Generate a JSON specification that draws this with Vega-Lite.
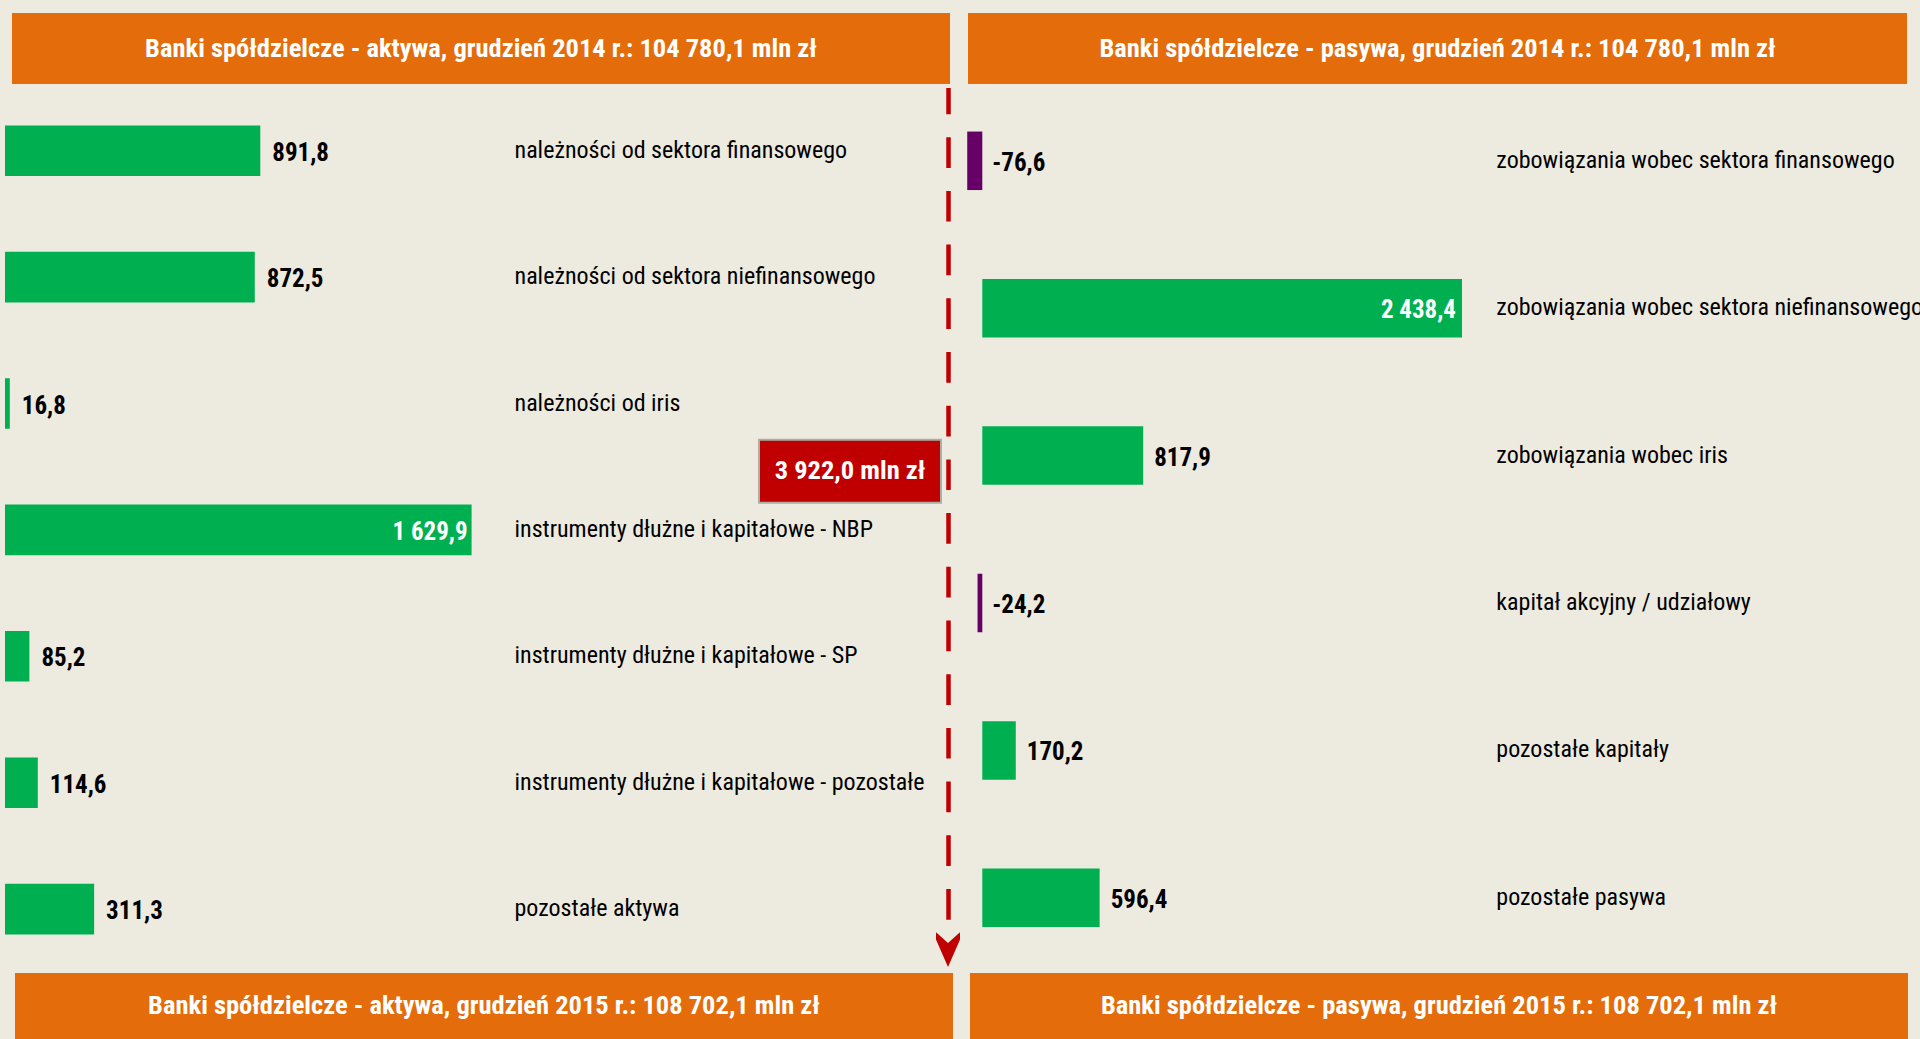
{
  "$schema": "https://vega.github.io/schema/vega-lite/v6.json",
  "background": "#EDEAE0",
  "padding": {"left": 0, "top": 13, "right": 0, "bottom": 0},
  "config": {
    "view": {"stroke": null},
    "font": "Roboto Condensed, DejaVu Sans Condensed, sans-serif",
    "locale": {"number": {"decimal": ",", "thousands": " ", "grouping": [3], "currency": ["", ""], "minus": "-"}}
  },
  "datasets": {
    "aktywa": [
      {"cat": "należności od sektora finansowego", "value": 891.8},
      {"cat": "należności od sektora niefinansowego", "value": 872.5},
      {"cat": "należności od iris", "value": 16.8},
      {"cat": "instrumenty dłużne i kapitałowe - NBP", "value": 1629.9},
      {"cat": "instrumenty dłużne i kapitałowe - SP", "value": 85.2},
      {"cat": "instrumenty dłużne i kapitałowe - pozostałe", "value": 114.6},
      {"cat": "pozostałe aktywa", "value": 311.3}
    ],
    "pasywa": [
      {"cat": "zobowiązania wobec sektora finansowego", "value": -76.6},
      {"cat": "zobowiązania wobec sektora niefinansowego", "value": 2438.4},
      {"cat": "zobowiązania wobec iris", "value": 817.9},
      {"cat": "kapitał akcyjny / udziałowy", "value": -24.2},
      {"cat": "pozostałe kapitały", "value": 170.2},
      {"cat": "pozostałe pasywa", "value": 596.4}
    ]
  },
  "spacing": 0,
  "vconcat": [
    {
      "spacing": 0,
      "bounds": "flush",
      "hconcat": [
        {"width": 12, "height": 71, "data": {"values": []}, "mark": "point"},
        {
          "width": 938, "height": 71,
          "view": {"fill": "#E46C0A", "stroke": null},
          "data": {"values": [{"t": "Banki spółdzielcze - aktywa, grudzień 2014 r.: 104 780,1 mln zł"}]},
          "mark": {"type": "text", "color": "white", "fontSize": 26.5, "fontWeight": "bold", "baseline": "middle", "align": "center"},
          "encoding": {"text": {"field": "t", "type": "nominal"}}
        },
        {"width": 18, "height": 71, "data": {"values": []}, "mark": "point"},
        {
          "width": 939, "height": 71,
          "view": {"fill": "#E46C0A", "stroke": null},
          "data": {"values": [{"t": "Banki spółdzielcze - pasywa, grudzień 2014 r.: 104 780,1 mln zł"}]},
          "mark": {"type": "text", "color": "white", "fontSize": 26.5, "fontWeight": "bold", "baseline": "middle", "align": "center"},
          "encoding": {"text": {"field": "t", "type": "nominal"}}
        }
      ]
    },
    {
      "spacing": 0,
      "bounds": "flush",
      "hconcat": [
        {
          "width": 948, "height": 889,
          "layer": [
            {
              "data": {"name": "aktywa"},
              "mark": {"type": "bar", "color": "#00B050"},
              "encoding": {
                "x": {"field": "value", "type": "quantitative", "scale": {"domain": [0, 1629.9], "range": [5, 471.6], "nice": false, "zero": false}, "axis": null},
                "y": {
                  "field": "cat", "type": "nominal", "sort": null,
                  "scale": {
                    "domain": ["należności od sektora finansowego", "należności od sektora niefinansowego", "należności od iris", "instrumenty dłużne i kapitałowe - NBP", "instrumenty dłużne i kapitałowe - SP", "instrumenty dłużne i kapitałowe - pozostałe", "pozostałe aktywa"],
                    "range": [3.5, 888.3], "paddingInner": 0.6, "paddingOuter": 0.3
                  },
                  "axis": {
                    "orient": "right", "title": null, "grid": false,
                    "domain": true, "domainColor": "#C00000", "domainWidth": 4.5,
                    "domainDash": [30.7, 23, 30.7, 23, 30.7, 23, 30.7, 23, 30.7, 23, 30.7, 23, 30.7, 23, 30.7, 23, 30.7, 23, 30.7, 23, 30.7, 23, 30.7, 23, 30.7, 23, 30.7, 23, 30.7, 23, 30.7, 500],
                    "domainDashOffset": 4.5,
                    "ticks": false, "tickSize": 0,
                    "labelPadding": -434, "labelAlign": "left", "labelBaseline": "middle",
                    "labelFontSize": 24, "labelColor": "#000000", "labelLimit": 0,
                    "labelFont": "Roboto Condensed, DejaVu Sans Condensed, sans-serif",
                    "minExtent": 0, "maxExtent": 0
                  }
                }
              }
            },
            {
              "data": {"name": "aktywa"},
              "transform": [{"filter": "datum.value < 1000"}],
              "mark": {"type": "text", "align": "left", "baseline": "middle", "dx": 12, "dy": 2, "fontSize": 25, "fontWeight": "bold", "color": "#000000"},
              "encoding": {
                "x": {"field": "value", "type": "quantitative"},
                "y": {"field": "cat", "type": "nominal", "sort": null},
                "text": {"field": "value", "type": "quantitative", "format": ",.1f"}
              }
            },
            {
              "data": {"name": "aktywa"},
              "transform": [{"filter": "datum.value >= 1000"}],
              "mark": {"type": "text", "align": "right", "baseline": "middle", "dx": -4, "dy": 2, "fontSize": 25, "fontWeight": "bold", "color": "#FFFFFF"},
              "encoding": {
                "x": {"field": "value", "type": "quantitative"},
                "y": {"field": "cat", "type": "nominal", "sort": null},
                "text": {"field": "value", "type": "quantitative", "format": ",.1f"}
              }
            },
            {
              "data": {"values": [{"label": "3 922,0 mln zł"}]},
              "mark": {"type": "point", "shape": "M-1,-0.346L1,-0.346L1,0.346L-1,0.346Z", "size": 33124, "filled": true, "fill": "#C00000", "stroke": "#A9B0A3", "strokeWidth": 2, "opacity": 1, "xOffset": -98},
              "encoding": {
                "x": {"value": "width"},
                "y": {"datum": "należności od iris", "type": "nominal", "bandPosition": 1.84}
              }
            },
            {
              "data": {"values": [{"label": "3 922,0 mln zł"}]},
              "mark": {"type": "text", "align": "center", "baseline": "middle", "fontSize": 26.5, "fontWeight": "bold", "color": "#FFFFFF", "xOffset": -98},
              "encoding": {
                "x": {"value": "width"},
                "y": {"datum": "należności od iris", "type": "nominal", "bandPosition": 1.84},
                "text": {"field": "label", "type": "nominal"}
              }
            },
            {
              "data": {"values": [{"arrow": "down"}]},
              "mark": {"type": "point", "shape": "M-1,-3.4L0,-2.5L1,-3.4L1,-2.8L0,-0.5L-1,-2.8Z", "size": 576, "filled": true, "fill": "#C00000", "strokeWidth": 0, "opacity": 1},
              "encoding": {
                "x": {"value": "width"},
                "y": {"value": "height"}
              }
            }
          ]
        },
        {
          "width": 972, "height": 889,
          "data": {"name": "pasywa"},
          "layer": [
            {
              "mark": {"type": "bar"},
              "encoding": {
                "x": {"field": "value", "type": "quantitative", "scale": {"domain": [0, 2438.4], "range": [34.3, 514], "nice": false, "zero": false}, "axis": null},
                "y": {
                  "field": "cat", "type": "nominal", "sort": null,
                  "scale": {
                    "domain": ["zobowiązania wobec sektora finansowego", "zobowiązania wobec sektora niefinansowego", "zobowiązania wobec iris", "kapitał akcyjny / udziałowy", "pozostałe kapitały", "pozostałe pasywa"],
                    "range": [3.1, 887.5], "paddingInner": 0.603, "paddingOuter": 0.3015
                  },
                  "axis": {
                    "orient": "left", "title": null, "grid": false, "domain": false,
                    "ticks": false, "tickSize": 0,
                    "labelPadding": -547.8, "labelAlign": "left", "labelBaseline": "middle",
                    "labelFontSize": 24, "labelColor": "#000000", "labelLimit": 0,
                    "labelFont": "Roboto Condensed, DejaVu Sans Condensed, sans-serif",
                    "minExtent": 0, "maxExtent": 0
                  }
                },
                "color": {"condition": {"test": "datum.value < 0", "value": "#660066"}, "value": "#00B050"}
              }
            },
            {
              "transform": [{"filter": "datum.value >= 0 && datum.value < 1000"}],
              "mark": {"type": "text", "align": "left", "baseline": "middle", "dx": 11, "dy": 2, "fontSize": 25, "fontWeight": "bold", "color": "#000000"},
              "encoding": {
                "x": {"field": "value", "type": "quantitative"},
                "y": {"field": "cat", "type": "nominal", "sort": null},
                "text": {"field": "value", "type": "quantitative", "format": ",.1f"}
              }
            },
            {
              "transform": [{"filter": "datum.value < 0"}],
              "mark": {"type": "text", "align": "left", "baseline": "middle", "dx": 10, "dy": 2, "fontSize": 25, "fontWeight": "bold", "color": "#000000"},
              "encoding": {
                "x": {"datum": 0, "type": "quantitative"},
                "y": {"field": "cat", "type": "nominal", "sort": null},
                "text": {"field": "value", "type": "quantitative", "format": ",.1f"}
              }
            },
            {
              "transform": [{"filter": "datum.value >= 1000"}],
              "mark": {"type": "text", "align": "right", "baseline": "middle", "dx": -6, "dy": 2, "fontSize": 25, "fontWeight": "bold", "color": "#FFFFFF"},
              "encoding": {
                "x": {"field": "value", "type": "quantitative"},
                "y": {"field": "cat", "type": "nominal", "sort": null},
                "text": {"field": "value", "type": "quantitative", "format": ",.1f"}
              }
            }
          ]
        }
      ]
    },
    {
      "spacing": 0,
      "bounds": "flush",
      "hconcat": [
        {"width": 15, "height": 66, "data": {"values": []}, "mark": "point"},
        {
          "width": 938, "height": 66,
          "view": {"fill": "#E46C0A", "stroke": null},
          "data": {"values": [{"t": "Banki spółdzielcze - aktywa, grudzień 2015 r.: 108 702,1 mln zł"}]},
          "mark": {"type": "text", "color": "white", "fontSize": 26.5, "fontWeight": "bold", "baseline": "middle", "align": "center"},
          "encoding": {"text": {"field": "t", "type": "nominal"}}
        },
        {"width": 17, "height": 66, "data": {"values": []}, "mark": "point"},
        {
          "width": 938, "height": 66,
          "view": {"fill": "#E46C0A", "stroke": null},
          "data": {"values": [{"t": "Banki spółdzielcze - pasywa, grudzień 2015 r.: 108 702,1 mln zł"}]},
          "mark": {"type": "text", "color": "white", "fontSize": 26.5, "fontWeight": "bold", "baseline": "middle", "align": "center"},
          "encoding": {"text": {"field": "t", "type": "nominal"}}
        }
      ]
    }
  ]
}
